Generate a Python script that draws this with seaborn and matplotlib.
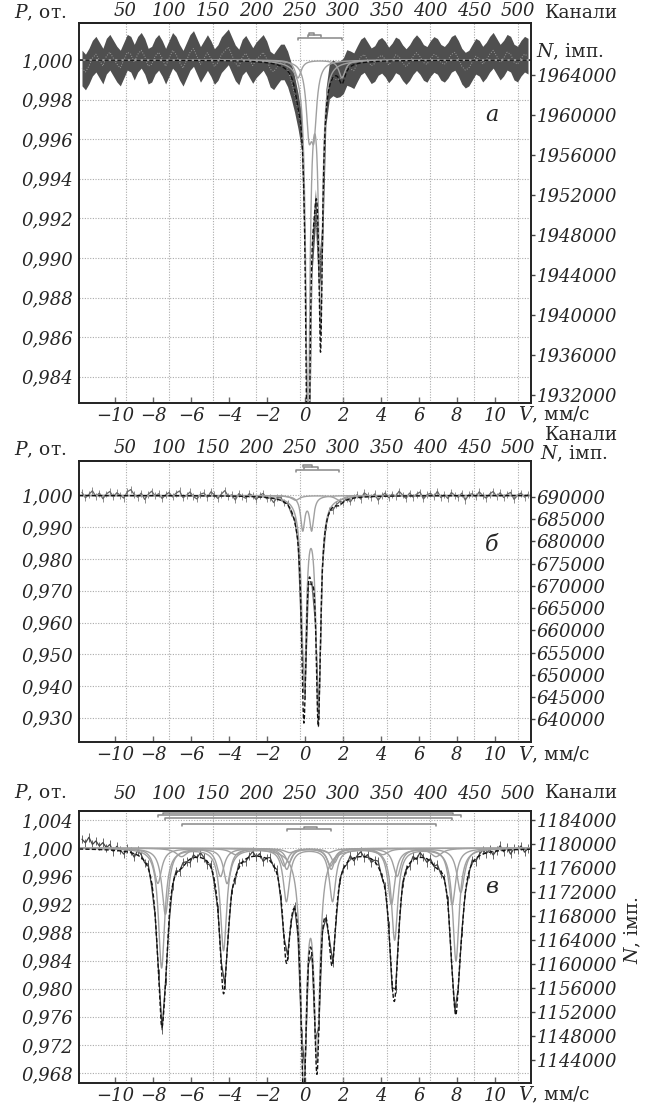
import numpy as np
import matplotlib
matplotlib.use("Agg")
import matplotlib.pyplot as plt
import seaborn as sns

# ---------------- tick values and labels ----------------
v_ticks = [-10, -8, -6, -4, -2, 0, 2, 4, 6, 8, 10]
v_labels = ["−10", "−8", "−6", "−4", "−2", "0", "2", "4", "6", "8", "10"]
ch_ticks = [50, 100, 150, 200, 250, 300, 350, 400, 450, 500]
ch_labels = ["50", "100", "150", "200", "250", "300", "350", "400", "450", "500"]

a_p_ticks = [1.000, 0.998, 0.996, 0.994, 0.992, 0.990, 0.988, 0.986, 0.984]
a_p_labels = ["1,000", "0,998", "0,996", "0,994", "0,992", "0,990", "0,988", "0,986", "0,984"]
a_n_ticks = [1964000, 1960000, 1956000, 1952000, 1948000, 1944000, 1940000, 1936000, 1932000]

b_p_ticks = [1.000, 0.990, 0.980, 0.970, 0.960, 0.950, 0.940, 0.930]
b_p_labels = ["1,000", "0,990", "0,980", "0,970", "0,960", "0,950", "0,940", "0,930"]
b_n_ticks = [690000, 685000, 680000, 675000, 670000, 665000, 660000, 655000, 650000, 645000, 640000]

c_p_ticks = [1.004, 1.000, 0.996, 0.992, 0.988, 0.984, 0.980, 0.976, 0.972, 0.968]
c_p_labels = ["1,004", "1,000", "0,996", "0,992", "0,988", "0,984", "0,980", "0,976", "0,972", "0,968"]
c_n_ticks = [1184000, 1180000, 1176000, 1172000, 1168000, 1164000, 1160000, 1156000,
             1152000, 1148000, 1144000]

# ---------------- fitted sub-spectra (line positions mm/s, depths, FWHM) ----------------
a_d1_pos = [0.15, 0.82];  a_d1_depth = [0.0201, 0.0132];  a_d1_width = 0.24
a_d2_pos = [0.21, 0.47];  a_d2_depth = [0.0032, 0.0032];  a_d2_width = 0.35
a_d3_pos = [-0.37, 1.95]; a_d3_depth = [0.0009, 0.0009];  a_d3_width = 0.40

b_d1_pos = [-0.05, 0.70]; b_d1_depth = [0.0595, 0.069];   b_d1_width = 0.29
b_d2_pos = [-0.12, 0.35]; b_d2_depth = [0.0105, 0.0105];  b_d2_width = 0.26
b_d3_pos = [-0.50, 1.80]; b_d3_depth = [0.0015, 0.0015];  b_d3_width = 0.50

c_s1_pos = [-7.55, -4.29, -0.98, 1.45, 4.72, 7.95]
c_s1_depth = [0.017, 0.0145, 0.0075, 0.0075, 0.013, 0.016]; c_s1_width = 0.40
c_s2_pos = [-7.35, -4.10, -0.85, 1.55, 4.55, 7.75]
c_s2_depth = [0.0094, 0.005, 0.002, 0.002, 0.008, 0.008]; c_s2_width = 0.44
c_s3_pos = [-7.75, -4.45, -1.10, 1.35, 4.85, 8.20]
c_s3_depth = [0.005, 0.004, 0.0025, 0.0025, 0.004, 0.0063]; c_s3_width = 0.48
c_s4_pos = [-6.50, -3.65, -0.80, 1.25, 4.10, 6.90]
c_s4_depth = [0.0012, 0.0009, 0.0006, 0.0006, 0.0009, 0.0012]; c_s4_width = 0.70
c_db_pos = [-0.96, 1.38]; c_db_depth = [0.003, 0.003]; c_db_width = 0.45
c_dc_pos = [-0.07, 0.63]; c_dc_depth = [0.033, 0.0285]; c_dc_width = 0.36

# bracket markers above spectra: (left V, right V, level P)
a_br_left = [-0.37, 0.15, 0.21]; a_br_right = [1.95, 0.82, 0.47]; a_br_level = [1.00111, 1.00126, 1.00136]
b_br_left = [-0.50, -0.05, -0.12]; b_br_right = [1.80, 0.70, 0.35]; b_br_level = [1.0080, 1.0089, 1.0096]
c_br_left = [-7.50, -7.75, -7.35, -6.50, -0.07, -0.96]
c_br_right = [7.80, 8.20, 7.75, 6.90, 0.63, 1.38]
c_br_level = [1.00504, 1.00471, 1.00424, 1.00343, 1.00305, 1.00267]

# experimental residuals (x1e-4), every 4th channel
a_resid = [-4, -6, -3, 1, 3, 0, -3, 2, 4, 1, -2, -4, 0, 4, 3, -1,
           3, 5, 2, -3, -2, 2, 4, 1, -3, 1, 5, 3, -1, -4, 0, 4,
           6, 2, -2, 1, 4, 1, -3, -1, 3, 5, 7, 3, -1, -3, 2, 4,
           1, -2, 1, 3, 5, 2, -3, -4, -1, 2, 3, 1, -2, -3, -1, 1,
           2, 1, -1, -2, -1, 2, 4, 3, 0, -2, 1, 3, 2, -1, -3, 0,
           3, 4, 1, -2, -1, 2, 3, 1, -2, 0, 3, 2, -1, -3, -1, 2,
           4, 2, -1, -2, 1, 3, 2, -1, -2, 0, 3, 4, 1, -3, -5, -4,
           -1, 2, 1, -2, 0, 3, 5, 2, -1, 1, 4, 3, -1, -2, 1, 3, 2]
b_resid = [10, -7, 4, 15, -3, 8, -10, 5, 13, -4, 9, 1, -8, 12, 19, 3,
           -5, 8, -12, 4, 14, -1, 6, -9, 3, 10, -4, 8, 15, -6, 1, 12,
           -3, -10, 5, 9, -5, 13, 3, -8, 6, 17, -1, 4, -12, 8, 0, -6,
           9, 3, -9, 5, 12, -4, 1, -13, 6, 10, -3, 4, -8, 5, 8, -1,
           3, -5, 6, 1, -4, 8, -3, 5, -9, 4, 12, -1, 6, -10, 3, 9,
           -6, 13, 4, -3, 8, -12, 1, 10, -5, 6, -1, 15, 3, -8, 9, -4,
           5, 12, -10, 3, 8, -3, 14, -6, 4, -9, 10, 1, -5, 8, -14, 3,
           6, -4, 12, 0, -8, 5, 13, -3, 9, -6, 4, 10, -12, 1, 8, -5, 4]
c_resid = [14, 9, 17, 7, 12, 5, 10, 3, 8, -2, 6, 1, -4, 5, 2, -5,
           7, 4, -2, 6, -6, 1, 5, -4, 2, -7, 0, 4, -2, 6, 1, -5,
           4, -1, 7, 2, -4, 5, -6, 2, 8, 1, -2, 4, -5, 6, 0, -4,
           2, 7, -1, 4, -6, 1, 5, -2, 7, -4, 2, 6, -1, 4, -5, 2,
           5, -2, 1, 6, -4, 2, -1, 7, 0, -5, 4, 1, -2, 6, -4, 2,
           7, -1, 4, -5, 2, 8, -2, 5, 1, -6, 4, -1, 6, 2, -4, 5,
           -2, 7, 1, -5, 4, -1, 6, -4, 2, 5, -2, 1, -6, 4, 0, -2,
           5, -4, 2, 6, -1, 4, -5, 1, 7, -2, 4, -6, 2, 0, 5, -4, 1]

# ---------------- style / layout ----------------
sns.set_theme(style="white")
plt.rcParams["font.family"] = ["DejaVu Serif"]
plt.rcParams["mathtext.fontset"] = "dejavuserif"

W, H = 645, 1110
FS = 13
FT = 13.5
V_MAX = 11.9
CH0, CH_PER_V = 256.0, 21.8
GRID = "#aaaaaa"
COMP = "#a0a0a0"


def v2ch(v):
    return CH0 + CH_PER_V * np.asarray(v, dtype=float)


def ch2v(c):
    return (np.asarray(c, dtype=float) - CH0) / CH_PER_V


def fx(x):
    return x / W


def fy(y):
    return 1 - y / H


def lines_sum(v, pos, depth, width):
    v = np.asarray(v, dtype=float)[:, None]
    p = np.asarray(pos)[None, :]
    d = np.asarray(depth)[None, :]
    return (d / (1.0 + (2.0 * (v - p) / width) ** 2)).sum(axis=1)


vgrid = np.linspace(-V_MAX, V_MAX, 3000)

fig = plt.figure(figsize=(W / 100, H / 100), dpi=100)


def panel(top_px, bot_px, comps, brs, resid, err, mode, p_ticks, p_labels, p_lim,
          n_ticks, n_lim, top_pad):
    ax = fig.add_axes([fx(79), fy(bot_px), (531 - 79) / W, (bot_px - top_px) / H])
    ax.set_xlim(-V_MAX, V_MAX)
    ax.set_ylim(*p_lim)
    ax.set_xticks(v_ticks, v_labels, fontsize=FS, fontstyle="italic")
    ax.set_xticks(ch2v(ch_ticks), minor=True)
    ax.set_yticks(p_ticks, p_labels, fontsize=FS, fontstyle="italic")
    ax.grid(True, which="minor", axis="x", color=GRID, ls=(0, (1, 1.4)), lw=0.8)
    ax.grid(True, which="major", axis="y", color=GRID, ls=(0, (1, 1.4)), lw=0.8)
    ax.tick_params(axis="x", which="major", direction="in", length=4, width=1,
                   color="#666666", pad=3, bottom=True)
    ax.tick_params(axis="x", which="minor", length=0)
    ax.tick_params(axis="y", direction="in", length=0, pad=4, left=True)
    for s in ax.spines.values():
        s.set_color("#222222")
        s.set_linewidth(1.2)

    # experimental data
    ch = 4 * np.arange(len(resid))
    vd = ch2v(ch)
    fit_d = 1 - sum(lines_sum(vd, *c) for c in comps)
    pdat = fit_d + np.asarray(resid) * 1e-4
    if mode == "band":
        ax.fill_between(vd, pdat - err, pdat + err, color="#4f4f4f", lw=0, zorder=1)
        sns.lineplot(x=vd, y=pdat, ax=ax, color="#9a9a9a", lw=0.7, ls=":",
                     estimator=None, sort=False, zorder=1.5)
    else:
        col = "#666666" if mode == "light" else "#444444"
        ecol = "#8c8c8c" if mode == "light" else "#666666"
        ax.vlines(vd, pdat - err, pdat + err, color=ecol, lw=0.7, zorder=1)
        sns.lineplot(x=vd, y=pdat, ax=ax, color=col, lw=0.9,
                     estimator=None, sort=False, zorder=1.2)

    # sub-spectra
    for c in comps:
        sns.lineplot(x=vgrid, y=1 - lines_sum(vgrid, *c), ax=ax, color=COMP, lw=1.0,
                     estimator=None, sort=False, zorder=2)
    total = 1 - sum(lines_sum(vgrid, *c) for c in comps)
    sns.lineplot(x=vgrid, y=total, ax=ax, color="#111111", lw=1.0,
                 estimator=None, sort=False, zorder=3)
    ax.lines[-1].set_dashes([3, 1.6])

    # brackets
    tick = 0.006 * (p_lim[1] - p_lim[0])
    for l, r, lev in zip(*brs):
        ax.plot([l, l, r, r], [lev - tick, lev, lev, lev - tick], color="#888888",
                lw=1.1, zorder=2)

    # right axis (counts)
    axr = ax.twinx()
    axr.set_ylim(*n_lim)
    axr.set_yticks(n_ticks, [str(n) for n in n_ticks], fontsize=FS, fontstyle="italic")
    axr.tick_params(axis="y", direction="out", length=3, width=1, pad=1,
                    color="#444444", right=True)
    axr.grid(False)
    for s in axr.spines.values():
        s.set_color("#222222")
        s.set_linewidth(1.2)

    # top axis (channels)
    topax = ax.secondary_xaxis("top", functions=(v2ch, ch2v))
    topax.set_xticks(ch_ticks, ch_labels, fontsize=FS, fontstyle="italic")
    topax.tick_params(length=0, pad=top_pad)
    topax.spines["top"].set_linewidth(1.2)
    topax.spines["top"].set_color("#222222")
    return ax


# panel а
panel(23, 403,
      [(a_d1_pos, a_d1_depth, a_d1_width), (a_d2_pos, a_d2_depth, a_d2_width),
       (a_d3_pos, a_d3_depth, a_d3_width)],
      (a_br_left, a_br_right, a_br_level), a_resid, 0.0009, "band",
      a_p_ticks, a_p_labels, (0.982677, 1.001869), a_n_ticks, (1931200, 1969200), 2.5)
# panel б
panel(461, 742,
      [(b_d1_pos, b_d1_depth, b_d1_width), (b_d2_pos, b_d2_depth, b_d2_width),
       (b_d3_pos, b_d3_depth, b_d3_width)],
      (b_br_left, b_br_right, b_br_level), b_resid, 0.0011, "light",
      b_p_ticks, b_p_labels, (0.92239, 1.01086), b_n_ticks, (634875, 698100), 3)
# panel в
panel(811, 1083,
      [(c_s1_pos, c_s1_depth, c_s1_width), (c_s2_pos, c_s2_depth, c_s2_width),
       (c_s3_pos, c_s3_depth, c_s3_width), (c_s4_pos, c_s4_depth, c_s4_width),
       (c_db_pos, c_db_depth, c_db_width), (c_dc_pos, c_dc_depth, c_dc_width)],
      (c_br_left, c_br_right, c_br_level), c_resid, 0.0006, "dark",
      c_p_ticks, c_p_labels, (0.96658, 1.00528), c_n_ticks, (1140160, 1185500), 6)

# axis titles and panel letters
txt = dict(fontsize=FT, va="center")
fig.text(fx(14), fy(13), r"$P$, от.", ha="left", **txt)
fig.text(fx(545), fy(13), "Канали", ha="left", **txt)
fig.text(fx(536), fy(52), r"$N$, імп.", ha="left", **txt)

fig.text(fx(14), fy(450), r"$P$, от.", ha="left", **txt)
fig.text(fx(545), fy(435), "Канали", ha="left", **txt)
fig.text(fx(540), fy(454), r"$N$, імп.", ha="left", **txt)

fig.text(fx(14), fy(793), r"$P$, от.", ha="left", **txt)
fig.text(fx(545), fy(793), "Канали", ha="left", **txt)
fig.text(fx(633), fy(930), r"$N$, імп.", ha="center", rotation=90, **txt)

for yv in [415, 755, 1095]:
    fig.text(fx(518), fy(yv), r"$V$, мм/с", ha="left", **txt)
for letter, yl in [("а", 115), ("б", 545), ("в", 887)]:
    fig.text(fx(492), fy(yl), letter, ha="center", va="center", fontsize=16,
             fontstyle="italic")

fig.savefig("out.png", dpi=100)
